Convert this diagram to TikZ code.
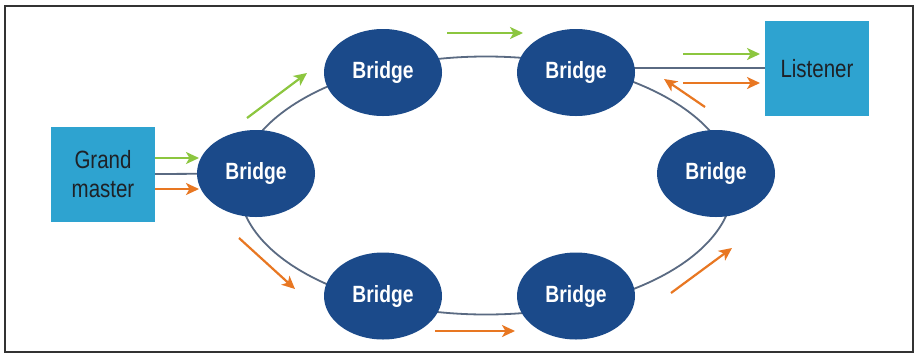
\documentclass[tikz,border=0pt]{standalone}
\usepackage{fontspec}
\setmainfont{Liberation Sans}
\newfontfamily\narrowfont[FakeStretch=0.82]{Liberation Sans}
\usetikzlibrary{shapes.geometric,arrows.meta}
\definecolor{nodeblue}{HTML}{1B4A8A}
\definecolor{boxblue}{HTML}{2EA3D0}
\definecolor{ringgray}{HTML}{5A6A82}
\definecolor{arrgreen}{HTML}{8CC63F}
\definecolor{arrorange}{HTML}{E87722}
\definecolor{txtdark}{HTML}{1E2126}
\tikzset{
  bridge/.style={ellipse, fill=nodeblue, draw=none, minimum width=118pt, minimum height=87pt, inner sep=0pt,
    text=white, font=\narrowfont\fontsize{23.5}{23.5}\selectfont\bfseries},
  endbox/.style={rectangle, fill=boxblue, draw=none, inner sep=0pt, text=txtdark, align=center,
    font=\narrowfont\fontsize{25}{29}\selectfont},
  ring/.style={draw=ringgray, line width=1.8pt},
  flowg/.style={draw=arrgreen, line width=2.2pt, -{Stealth[length=13pt,width=12pt,inset=3.5pt]}},
  flowo/.style={draw=arrorange, line width=2.2pt, -{Stealth[length=13pt,width=12pt,inset=3.5pt]}},
}
\begin{document}
\begin{tikzpicture}[x=1pt,y=-1pt]
\useasboundingbox (0,0) rectangle (917,354);
\fill[white] (0,0) rectangle (917,354);
\draw[line width=1.6pt, draw=black!80] (5,6) rectangle (913,352);
% ring
\draw[ring] (486,185.5) ellipse [x radius=247, y radius=129];
% end boxes
\node[endbox, minimum width=104pt, minimum height=95pt] (gm) at (103,174.5) {Grand\\master};
\node[endbox, minimum width=104pt, minimum height=95pt] (ls) at (817,68.5) {Listener};
% bridge positions
\coordinate (pbl) at (256,173.5);
\coordinate (pbtr) at (576,72.5);
% links to end stations (drawn beneath the bridges)
\draw[ring] (gm.east |- 0,174) -- (pbl);
\draw[ring] (pbtr |- 0,68) -- (ls.west |- 0,68);
% bridges
\node[bridge] (bl) at (pbl) {Bridge};
\node[bridge] (btl) at (383,72.5) {Bridge};
\node[bridge] (bbl) at (383,296) {Bridge};
\node[bridge] (btr) at (pbtr) {Bridge};
\node[bridge] (br) at (716,173.5) {Bridge};
\node[bridge] (bbr) at (576,296) {Bridge};
% arrow coordinates
\coordinate (g1a) at (155,158); \coordinate (g1b) at (199,158);
\coordinate (o1a) at (155,189); \coordinate (o1b) at (199,189);
\coordinate (g2a) at (247,118); \coordinate (g2b) at (307,73);
\coordinate (o2a) at (239,238); \coordinate (o2b) at (295,289);
\coordinate (g3a) at (447,33); \coordinate (g3b) at (523,33);
\coordinate (o3a) at (435,331); \coordinate (o3b) at (515,331);
\coordinate (g4a) at (683,54); \coordinate (g4b) at (760,54);
\coordinate (o4a) at (683,83); \coordinate (o4b) at (760,83);
\coordinate (o5a) at (705,107); \coordinate (o5b) at (664,79);
\coordinate (o6a) at (671,293); \coordinate (o6b) at (732,248);
\draw[flowg] (g1a) -- (g1b);
\draw[flowo] (o1a) -- (o1b);
\draw[flowg] (g2a) -- (g2b);
\draw[flowo] (o2a) -- (o2b);
\draw[flowg] (g3a) -- (g3b);
\draw[flowo] (o3a) -- (o3b);
\draw[flowg] (g4a) -- (g4b);
\draw[flowo] (o4a) -- (o4b);
\draw[flowo] (o5a) -- (o5b);
\draw[flowo] (o6a) -- (o6b);
\end{tikzpicture}
\end{document}
